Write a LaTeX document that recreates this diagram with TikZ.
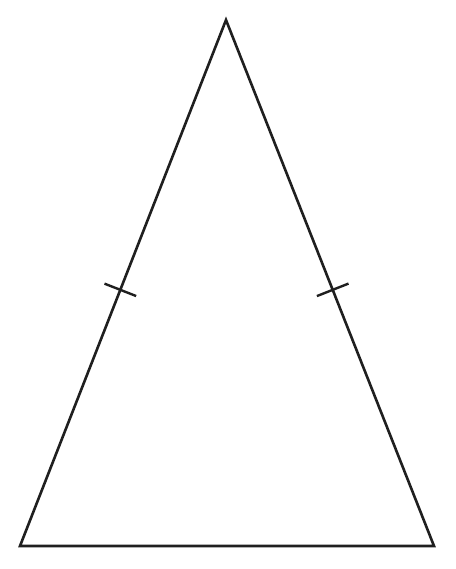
\documentclass[tikz,border=0pt]{standalone}
\usetikzlibrary{calc}
\begin{document}
\begin{tikzpicture}[x=1pt,y=1pt,
  side/.style={line width=2.6pt,draw=black!88,line join=miter},
  tick/.style={line width=2.4pt,draw=black!88}]
\useasboundingbox (0,0) rectangle (455,569);
\coordinate (A) at (226,549);
\coordinate (B) at (20,23);
\coordinate (C) at (434,23);
\draw[side] (A) -- (B) -- (C) -- cycle;
\coordinate (L) at ($(A)!0.513!(B)$);
\coordinate (R) at ($(A)!0.513!(C)$);
\draw[tick] ($(L)!17pt!90:(A)$) -- ($(L)!17pt!-90:(A)$);
\draw[tick] ($(R)!17pt!90:(A)$) -- ($(R)!17pt!-90:(A)$);
\end{tikzpicture}
\end{document}
